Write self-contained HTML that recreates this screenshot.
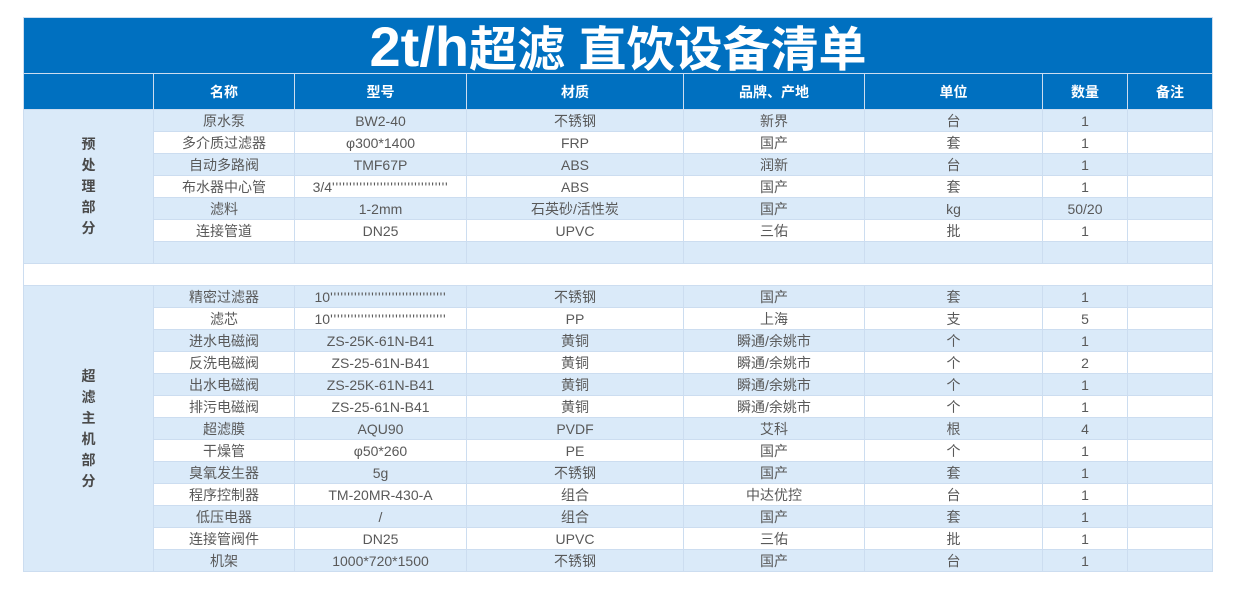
<!DOCTYPE html>
<html>
<head>
<meta charset="utf-8">
<style>
  html,body{margin:0;padding:0;background:#fff;}
  body{width:1234px;height:596px;position:relative;overflow:hidden;
       font-family:"Liberation Sans","Noto Sans CJK SC",sans-serif;}
  .g{position:absolute;left:23px;top:17px;padding:1px;background:#CCDDF0;
     display:grid;gap:1px;
     grid-template-columns:129px 140px 171px 216px 180px 177px 84px 84px;
     grid-template-rows:55px 35px repeat(21,21px);}
  .g>div{overflow:hidden;text-align:center;white-space:nowrap;}
  .t{grid-column:span 8;background:#0070C0;color:#fff;font-weight:bold;
     font-family:"Liberation Sans","Noto Sans CJK SC",sans-serif;
     font-size:48px;line-height:55px;}
  .t .l{font-size:56px;line-height:0;}
  .t .c{font-family:"Noto Sans CJK SC",sans-serif;}
  .h{background:#0070C0;color:#fff;font-weight:bold;font-size:14px;line-height:36px;}
  .b,.w{font-size:14px;line-height:23px;color:#595959;}
  .b{background:#DAEAF9;}
  .w{background:#fff;}
  .lab{background:#DAEAF9;color:#4a4a4a;font-weight:bold;font-size:14px;
       display:flex;align-items:center;justify-content:center;line-height:21px;}
  .blank{grid-column:span 8;background:#fff;}
  .q{letter-spacing:0.75px;}
</style>
</head>
<body>
<div class="g">
  <div class="t"><span class="l">2t/h</span><span class="c">超滤</span> <span class="c">直饮设备清单</span></div>

  <div class="h"></div><div class="h">名称</div><div class="h">型号</div><div class="h">材质</div><div class="h">品牌、产地</div><div class="h">单位</div><div class="h">数量</div><div class="h">备注</div>

  <div class="lab" style="grid-row:span 7;"><div>预<br>处<br>理<br>部<br>分</div></div>
  <div class="b">原水泵</div><div class="b">BW2-40</div><div class="b">不锈钢</div><div class="b">新界</div><div class="b">台</div><div class="b">1</div><div class="b"></div>
  <div class="w">多介质过滤器</div><div class="w">φ300*1400</div><div class="w">FRP</div><div class="w">国产</div><div class="w">套</div><div class="w">1</div><div class="w"></div>
  <div class="b">自动多路阀</div><div class="b">TMF67P</div><div class="b">ABS</div><div class="b">润新</div><div class="b">台</div><div class="b">1</div><div class="b"></div>
  <div class="w">布水器中心管</div><div class="w">3/4<span class="q">''''''''''''''''''''''''''''''''''</span></div><div class="w">ABS</div><div class="w">国产</div><div class="w">套</div><div class="w">1</div><div class="w"></div>
  <div class="b">滤料</div><div class="b">1-2mm</div><div class="b">石英砂/活性炭</div><div class="b">国产</div><div class="b">kg</div><div class="b">50/20</div><div class="b"></div>
  <div class="w">连接管道</div><div class="w">DN25</div><div class="w">UPVC</div><div class="w">三佑</div><div class="w">批</div><div class="w">1</div><div class="w"></div>
  <div class="b"></div><div class="b"></div><div class="b"></div><div class="b"></div><div class="b"></div><div class="b"></div><div class="b"></div>

  <div class="blank"></div>

  <div class="lab" style="grid-row:span 13;"><div>超<br>滤<br>主<br>机<br>部<br>分</div></div>
  <div class="b">精密过滤器</div><div class="b">10<span class="q">''''''''''''''''''''''''''''''''''</span></div><div class="b">不锈钢</div><div class="b">国产</div><div class="b">套</div><div class="b">1</div><div class="b"></div>
  <div class="w">滤芯</div><div class="w">10<span class="q">''''''''''''''''''''''''''''''''''</span></div><div class="w">PP</div><div class="w">上海</div><div class="w">支</div><div class="w">5</div><div class="w"></div>
  <div class="b">进水电磁阀</div><div class="b">ZS-25K-61N-B41</div><div class="b">黄铜</div><div class="b">瞬通/余姚市</div><div class="b">个</div><div class="b">1</div><div class="b"></div>
  <div class="w">反洗电磁阀</div><div class="w">ZS-25-61N-B41</div><div class="w">黄铜</div><div class="w">瞬通/余姚市</div><div class="w">个</div><div class="w">2</div><div class="w"></div>
  <div class="b">出水电磁阀</div><div class="b">ZS-25K-61N-B41</div><div class="b">黄铜</div><div class="b">瞬通/余姚市</div><div class="b">个</div><div class="b">1</div><div class="b"></div>
  <div class="w">排污电磁阀</div><div class="w">ZS-25-61N-B41</div><div class="w">黄铜</div><div class="w">瞬通/余姚市</div><div class="w">个</div><div class="w">1</div><div class="w"></div>
  <div class="b">超滤膜</div><div class="b">AQU90</div><div class="b">PVDF</div><div class="b">艾科</div><div class="b">根</div><div class="b">4</div><div class="b"></div>
  <div class="w">干燥管</div><div class="w">φ50*260</div><div class="w">PE</div><div class="w">国产</div><div class="w">个</div><div class="w">1</div><div class="w"></div>
  <div class="b">臭氧发生器</div><div class="b">5g</div><div class="b">不锈钢</div><div class="b">国产</div><div class="b">套</div><div class="b">1</div><div class="b"></div>
  <div class="w">程序控制器</div><div class="w">TM-20MR-430-A</div><div class="w">组合</div><div class="w">中达优控</div><div class="w">台</div><div class="w">1</div><div class="w"></div>
  <div class="b">低压电器</div><div class="b">/</div><div class="b">组合</div><div class="b">国产</div><div class="b">套</div><div class="b">1</div><div class="b"></div>
  <div class="w">连接管阀件</div><div class="w">DN25</div><div class="w">UPVC</div><div class="w">三佑</div><div class="w">批</div><div class="w">1</div><div class="w"></div>
  <div class="b">机架</div><div class="b">1000*720*1500</div><div class="b">不锈钢</div><div class="b">国产</div><div class="b">台</div><div class="b">1</div><div class="b"></div>
</div>
</body>
</html>
